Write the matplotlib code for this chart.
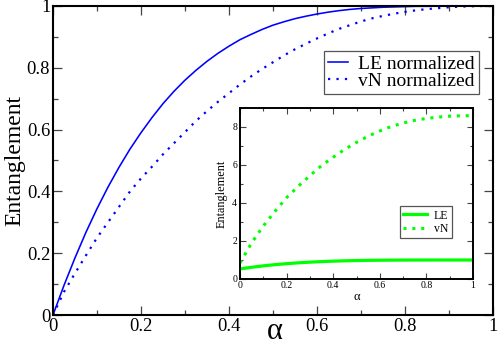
import matplotlib
matplotlib.use("Agg")
import matplotlib.pyplot as plt
from matplotlib.ticker import MultipleLocator

plt.rcParams['font.family'] = ['Liberation Serif', 'DejaVu Serif']

# ---- data ----
alpha_main = [0.0, 0.025, 0.05, 0.075, 0.1, 0.125, 0.15, 0.175, 0.2, 0.225,
              0.25, 0.275, 0.3, 0.325, 0.35, 0.375, 0.4, 0.425, 0.45, 0.475,
              0.5, 0.525, 0.55, 0.575, 0.6, 0.625, 0.65, 0.675, 0.7, 0.725,
              0.75, 0.775, 0.8, 0.825, 0.85, 0.875, 0.9, 0.925, 0.95, 0.975, 1.0]
le_normalized = [0.0, 0.096, 0.185, 0.268, 0.344, 0.414, 0.478, 0.537, 0.590, 0.639,
                 0.684, 0.724, 0.760, 0.792, 0.821, 0.847, 0.870, 0.891, 0.908, 0.924,
                 0.938, 0.949, 0.959, 0.967, 0.974, 0.980, 0.985, 0.989, 0.992, 0.994,
                 0.996, 0.997, 0.998, 0.999, 0.999, 1.0, 1.0, 1.0, 1.0, 1.0, 1.0]
vn_normalized = [0.0, 0.075, 0.135, 0.193, 0.250, 0.300, 0.350, 0.400, 0.442, 0.480,
                 0.520, 0.556, 0.592, 0.628, 0.660, 0.690, 0.718, 0.746, 0.772, 0.796,
                 0.818, 0.840, 0.860, 0.878, 0.895, 0.911, 0.926, 0.938, 0.950, 0.960,
                 0.968, 0.975, 0.981, 0.986, 0.990, 0.993, 0.996, 0.998, 0.999, 1.0, 1.0]

alpha_inset = [0.0, 0.05, 0.1, 0.15, 0.2, 0.25, 0.3, 0.35, 0.4, 0.45, 0.5,
               0.55, 0.6, 0.65, 0.7, 0.75, 0.8, 0.85, 0.9, 0.95, 1.0]
le_inset = [0.53, 0.617, 0.692, 0.755, 0.807, 0.851, 0.887, 0.916, 0.939, 0.957, 0.971,
            0.981, 0.988, 0.993, 0.996, 0.998, 0.999, 1.0, 1.0, 1.0, 1.0]
vn_inset = [0.85, 1.90, 2.79, 3.56, 4.28, 4.88, 5.44, 5.97, 6.41, 6.83, 7.19,
            7.52, 7.79, 8.03, 8.21, 8.35, 8.45, 8.52, 8.57, 8.59, 8.60]

main_labels = ["LE normalized", "vN normalized"]
inset_labels = ["LE", "vN"]
tick_labels_x = ["0", "0.2", "0.4", "0.6", "0.8", "1"]
tick_labels_y_main = ["0", "0.2", "0.4", "0.6", "0.8", "1"]
tick_labels_y_inset = ["0", "2", "4", "6", "8"]

W, H = 498, 351
fig = plt.figure(figsize=(W / 100, H / 100), dpi=100)

def px_axes(x0, y0, x1, y1):
    return [x0 / W, 1 - y1 / H, (x1 - x0) / W, (y1 - y0) / H]

# ---- main axes ----
ax = fig.add_axes(px_axes(53, 6, 493, 315))
ax.plot(alpha_main, le_normalized, color='#0000ff', lw=1.15, label=main_labels[0])
ax.plot(alpha_main, vn_normalized, color='#0000ff', lw=1.6,
        linestyle=(0, (1, 2.8)), label=main_labels[1])
ax.set_xlim(0, 1)
ax.set_ylim(0, 1)
ax.set_xticks([0, 0.2, 0.4, 0.6, 0.8, 1.0])
ax.set_xticklabels(tick_labels_x)
ax.set_yticks([0, 0.2, 0.4, 0.6, 0.8, 1.0])
ax.set_yticklabels(tick_labels_y_main)
ax.xaxis.set_minor_locator(MultipleLocator(0.1))
ax.yaxis.set_minor_locator(MultipleLocator(0.1))
ax.tick_params(which='both', direction='in', top=True, right=True,
               color='#444444', labelsize=13.3)
ax.tick_params(which='major', length=6.5, width=0.9)
ax.tick_params(which='minor', length=3.5, width=0.9)
ax.tick_params(axis='x', pad=2.2)
ax.tick_params(axis='y', pad=2)
for s in ax.spines.values():
    s.set_linewidth(1.5)
ax.set_xlabel("α", fontsize=22)
ax.xaxis.set_label_coords(0.505, -0.008)
ax.set_ylabel("Entanglement", fontsize=17)
ax.yaxis.set_label_coords(-0.062, 0.5)
leg = ax.legend(loc='upper right', bbox_to_anchor=(0.968, 0.854), borderaxespad=0,
                fontsize=14, handlelength=1.0, handletextpad=0.55,
                borderpad=0.2, labelspacing=0.0, fancybox=False, framealpha=1)
leg.get_frame().set_edgecolor('#555555')
leg.get_frame().set_linewidth(0.9)

# ---- inset ----
ins = fig.add_axes(px_axes(240, 108, 473, 279))
ins.plot(alpha_inset, le_inset, color='#00ff00', lw=2.3, label=inset_labels[0])
ins.plot(alpha_inset, vn_inset, color='#00ff00', lw=2.2,
         linestyle=(0, (1, 1.9)), label=inset_labels[1])
ins.set_xlim(0, 1)
ins.set_ylim(0, 9)
ins.set_xticks([0, 0.2, 0.4, 0.6, 0.8, 1.0])
ins.set_xticklabels(tick_labels_x)
ins.set_yticks([0, 2, 4, 6, 8])
ins.set_yticklabels(tick_labels_y_inset)
ins.xaxis.set_minor_locator(MultipleLocator(0.1))
ins.yaxis.set_minor_locator(MultipleLocator(1))
ins.tick_params(which='both', direction='in', top=True, right=True,
                color='#444444', labelsize=7)
ins.tick_params(which='major', length=4, width=0.8)
ins.tick_params(which='minor', length=2.2, width=0.8)
ins.tick_params(axis='x', pad=1.5)
ins.tick_params(axis='y', pad=2)
for s in ins.spines.values():
    s.set_linewidth(1.4)
ins.set_xlabel("α", fontsize=9, labelpad=1)
ins.set_ylabel("Entanglement", fontsize=8.8, labelpad=3)
leg2 = ins.legend(loc='upper right', bbox_to_anchor=(0.91, 0.427), borderaxespad=0,
                  fontsize=8.5, handlelength=2.0, handletextpad=0.6,
                  borderpad=0.3, labelspacing=0.1, fancybox=False, framealpha=1)
leg2.get_frame().set_edgecolor('#555555')
leg2.get_frame().set_linewidth(0.9)

fig.savefig("out.png", dpi=100)
